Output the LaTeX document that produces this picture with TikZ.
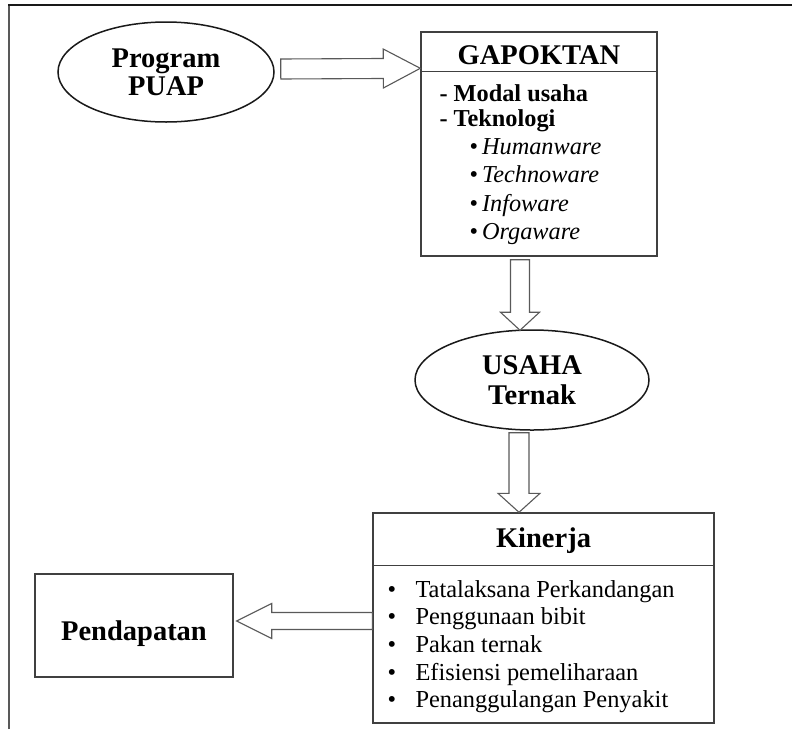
\documentclass[tikz,border=0pt]{standalone}
\usepackage{fontspec}
\setmainfont{Liberation Serif}
\usetikzlibrary{shapes.geometric,calc}

% Hollow block arrow from a start point to a tip:
% #1 start, #2 tip, #3 shaft half-width, #4 head half-width, #5 head length
\newcommand\blockarrow[5]{%
  \coordinate (ba-base) at ($(#2)!#5!(#1)$);
  \draw[blockarrow] ($(#1)!#3!90:(#2)$) -- ($(ba-base)!#3!90:(#2)$)
    -- ($(ba-base)!#4!90:(#2)$) -- (#2) -- ($(ba-base)!#4!-90:(#2)$)
    -- ($(ba-base)!#3!-90:(#2)$) -- ($(#1)!#3!-90:(#2)$) -- cycle;
}

\tikzset{
  frametop/.style={line width=2.6pt, draw=black!90},
  frameleft/.style={line width=2pt, draw=black!65},
  oval/.style={ellipse, draw=black!90, line width=1.5pt, inner sep=0pt, align=center},
  box/.style={rectangle, draw=black!75, line width=1.4pt, inner sep=0pt},
  blockarrow/.style={draw=black!65, line width=1.1pt, fill=white, line join=miter},
  headtext/.style={font=\fontsize{28.5}{28}\selectfont\bfseries, inner sep=0pt},
  bodybold/.style={font=\fontsize{24.3}{27}\selectfont\bfseries, inner sep=0pt, anchor=base west},
  bodyital/.style={font=\fontsize{24.3}{27}\selectfont, inner sep=0pt, anchor=base west},
  bodytext/.style={font=\fontsize{24.4}{27}\selectfont, inner sep=0pt, anchor=base west},
}

\begin{document}
\begin{tikzpicture}[x=1pt, y=-1pt]
\useasboundingbox (0,0) rectangle (792,729);

% surrounding frame (top and left edges)
\draw[frameleft] (9,729) -- (9,5);
\draw[frametop] (8,5) -- (792,5);

% program ellipse
\node[oval, headtext, minimum width=216pt, minimum height=100pt] (puap) at (166,72)
  {Program\\PUAP};

% GAPOKTAN box
\node[box, minimum width=236pt, minimum height=224pt] (gap) at (539,144) {};
\draw[box] ($(gap.north west)+(0,-40pt)$) -- ($(gap.north east)+(0,-40pt)$);
\node[headtext, anchor=base] (gaph) at ($(gap.north)+(0,-33pt)$) {GAPOKTAN};
\node[bodybold] (g1) at ($(gap.north west)+(19pt,-70pt)$) {- Modal usaha};
\node[bodybold] (g2) at ($(gap.north west)+(19pt,-95pt)$) {- Teknologi};
\node[bodyital] (g3) at ($(gap.north west)+(49pt,-123pt)$) {\textbullet\,\textit{Humanware}};
\node[bodyital] (g4) at ($(gap.north west)+(49pt,-151pt)$) {\textbullet\,\textit{Technoware}};
\node[bodyital] (g5) at ($(gap.north west)+(49pt,-180pt)$) {\textbullet\,\textit{Infoware}};
\node[bodyital] (g6) at ($(gap.north west)+(49pt,-208pt)$) {\textbullet\,\textit{Orgaware}};

% USAHA Ternak ellipse
\node[oval, font=\fontsize{28.5}{30}\selectfont\bfseries, minimum width=234pt, minimum height=100pt]
  (usaha) at (532,380) {USAHA\\Ternak};

% Kinerja box
\node[box, minimum width=341pt, minimum height=210pt] (kin) at (543.5,618) {};
\draw[box] ($(kin.north west)+(0,-53pt)$) -- ($(kin.north east)+(0,-53pt)$);
\node[headtext, anchor=base] (kinh) at ($(kin.north)+(0,-35pt)$) {Kinerja};
\foreach \t [count=\i] in {Tatalaksana Perkandangan, Penggunaan bibit, Pakan ternak,
    Efisiensi pemeliharaan, Penanggulangan Penyakit} {
  \node[bodytext] (kb\i) at ($(kin.north west)+(15pt,{-85pt-27.6pt*(\i-1)})$) {\textbullet};
  \node[bodytext] (kt\i) at ($(kin.north west)+(43pt,{-85pt-27.6pt*(\i-1)})$) {\t};
}

% Pendapatan box
\node[box, minimum width=198pt, minimum height=103pt] (pend) at (134,625.5) {};
\node[headtext, anchor=base] (pendt) at ($(pend.center)+(0,-15pt)$) {Pendapatan};

% block arrows between the parts
\coordinate (a1s) at ($(puap.east)+(6pt,3pt)$);
\coordinate (a1t) at ($(gap.north west)+(0,-37pt)$);
\blockarrow{a1s}{a1t}{10pt}{19.5pt}{37pt}

\coordinate (a2s) at ($(gap.south)+(-19pt,-3pt)$);
\coordinate (a2t) at ($(usaha.north)+(-12pt,-1pt)$);
\blockarrow{a2s}{a2t}{9.5pt}{19.5pt}{18pt}

\coordinate (a3s) at ($(usaha.south)+(-13pt,-2pt)$);
\coordinate (a3t) at ($(kin.north)+(-24.5pt,0)$);
\blockarrow{a3s}{a3t}{10pt}{21pt}{19pt}

\coordinate (a4s) at ($(kin.west)+(0,-3pt)$);
\coordinate (a4t) at ($(pend.east)+(3pt,4.5pt)$);
\blockarrow{a4s}{a4t}{8.5pt}{17.5pt}{35pt}
\end{tikzpicture}
\end{document}
